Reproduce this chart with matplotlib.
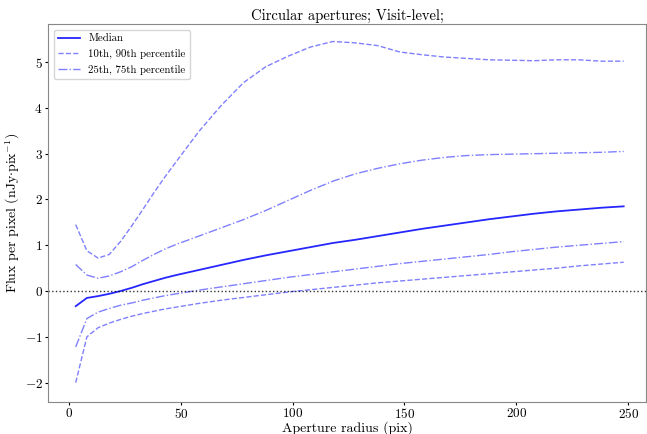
import matplotlib
matplotlib.use('Agg')
import matplotlib.pyplot as plt
import numpy as np

plt.rcParams['font.family'] = 'serif'
plt.rcParams['font.serif'] = ['cmr10', 'DejaVu Serif']
plt.rcParams['mathtext.fontset'] = 'cm'
plt.rcParams['axes.formatter.use_mathtext'] = True
plt.rcParams['axes.unicode_minus'] = True

# 孔径半径 (pix)
radius = [3, 8, 13, 18, 23, 28, 33, 38, 43, 48, 58, 68, 78, 88, 98, 108, 118, 128,
          138, 148, 158, 168, 178, 188, 198, 208, 218, 228, 238, 248]

median = [-0.33, -0.15, -0.11, -0.06, 0.0, 0.07, 0.15, 0.22, 0.29, 0.35, 0.46,
          0.57, 0.68, 0.78, 0.87, 0.96, 1.05, 1.12, 1.2, 1.28, 1.36, 1.43, 1.5,
          1.57, 1.63, 1.69, 1.74, 1.78, 1.82, 1.85]
p10 = [-2.0, -1.0, -0.8, -0.7, -0.62, -0.55, -0.49, -0.44, -0.39, -0.35, -0.27,
       -0.2, -0.14, -0.08, -0.02, 0.03, 0.08, 0.13, 0.18, 0.22, 0.26, 0.3,
       0.34, 0.38, 0.42, 0.46, 0.5, 0.55, 0.59, 0.63]
p90 = [1.45, 0.88, 0.72, 0.8, 1.08, 1.42, 1.78, 2.15, 2.5, 2.83, 3.48, 4.05,
       4.55, 4.9, 5.13, 5.33, 5.45, 5.42, 5.36, 5.22, 5.16, 5.11, 5.08, 5.05,
       5.04, 5.03, 5.05, 5.05, 5.02, 5.02]
p25 = [-1.22, -0.6, -0.46, -0.38, -0.31, -0.26, -0.2, -0.15, -0.1, -0.06, 0.02,
       0.09, 0.16, 0.23, 0.3, 0.36, 0.42, 0.48, 0.54, 0.6, 0.65, 0.7, 0.75,
       0.8, 0.86, 0.91, 0.96, 1.0, 1.04, 1.08]
p75 = [0.58, 0.35, 0.28, 0.33, 0.42, 0.53, 0.67, 0.8, 0.92, 1.02, 1.2, 1.38,
       1.56, 1.76, 1.98, 2.2, 2.4, 2.56, 2.68, 2.78, 2.86, 2.92, 2.96, 2.98,
       2.99, 3.0, 3.01, 3.02, 3.03, 3.05]

fig = plt.figure(figsize=(6.47, 4.34), dpi=100)
ax = fig.add_axes([0.0745, 0.0745, 0.924, 0.870])

ax.plot(radius, median, color='b', lw=1.3, alpha=0.85, label='Median')
ax.plot(radius, p10, color='b', lw=1.0, alpha=0.5, ls='--', label='10th, 90th percentile')
ax.plot(radius, p90, color='b', lw=1.0, alpha=0.5, ls='--')
ax.plot(radius, p25, color='b', lw=1.0, alpha=0.5, ls='-.', label='25th, 75th percentile')
ax.plot(radius, p75, color='b', lw=1.0, alpha=0.5, ls='-.')
ax.axhline(0, color='k', ls=':', lw=1.0, alpha=0.8)

ax.set_xlim(-9.3, 258)
ax.set_ylim(-2.415, 5.83)
ax.set_xticks([0, 50, 100, 150, 200, 250])
ax.set_yticks([-2, -1, 0, 1, 2, 3, 4, 5])

for side in ax.spines.values():
    side.set_color('#888888')

ax.set_title('Circular apertures; Visit-level;', fontsize=10.5, pad=3)
ax.set_xlabel('Aperture radius (pix)', fontsize=10, labelpad=0)
ax.set_ylabel(r'Flux per pixel (nJy$\cdot$pix$^{-1}$)', fontsize=10, labelpad=2)
ax.tick_params(labelsize=9.5, length=2.5, pad=1.5)
ax.legend(loc='upper left', fontsize=7.8)

fig.savefig('out.png', dpi=100)
